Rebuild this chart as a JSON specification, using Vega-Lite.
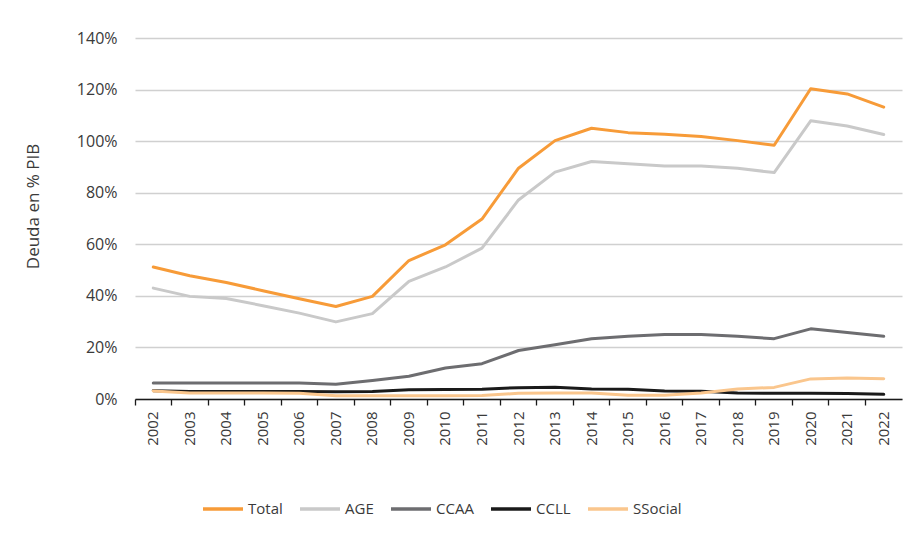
{
  "$schema": "https://vega.github.io/schema/vega-lite/v6.json",
  "width": 767,
  "height": 361,
  "autosize": {"type": "none"},
  "padding": {"left": 135, "top": 38, "right": 15, "bottom": 140},
  "background": "white",
  "config": {
    "font": "Open Sans",
    "view": {"stroke": null},
    "axis": {"labelFont": "Open Sans", "titleFont": "Open Sans", "labelColor": "#3a3a3a", "titleColor": "#3a3a3a", "titleFontWeight": "normal"},
    "legend": {"labelFont": "Open Sans"}
  },
  "data": {
    "values": [
      {"year": "2002", "series": "Total", "value": 51.2},
      {"year": "2003", "series": "Total", "value": 47.8},
      {"year": "2004", "series": "Total", "value": 45.2},
      {"year": "2005", "series": "Total", "value": 42.0},
      {"year": "2006", "series": "Total", "value": 38.9},
      {"year": "2007", "series": "Total", "value": 35.9},
      {"year": "2008", "series": "Total", "value": 39.8},
      {"year": "2009", "series": "Total", "value": 53.7},
      {"year": "2010", "series": "Total", "value": 59.8},
      {"year": "2011", "series": "Total", "value": 69.8},
      {"year": "2012", "series": "Total", "value": 89.5},
      {"year": "2013", "series": "Total", "value": 100.2},
      {"year": "2014", "series": "Total", "value": 105.0},
      {"year": "2015", "series": "Total", "value": 103.3},
      {"year": "2016", "series": "Total", "value": 102.7},
      {"year": "2017", "series": "Total", "value": 101.8},
      {"year": "2018", "series": "Total", "value": 100.2},
      {"year": "2019", "series": "Total", "value": 98.4},
      {"year": "2020", "series": "Total", "value": 120.3},
      {"year": "2021", "series": "Total", "value": 118.3},
      {"year": "2022", "series": "Total", "value": 113.2},
      {"year": "2002", "series": "AGE", "value": 43.0},
      {"year": "2003", "series": "AGE", "value": 39.8},
      {"year": "2004", "series": "AGE", "value": 39.0},
      {"year": "2005", "series": "AGE", "value": 36.2},
      {"year": "2006", "series": "AGE", "value": 33.3},
      {"year": "2007", "series": "AGE", "value": 29.9},
      {"year": "2008", "series": "AGE", "value": 33.1},
      {"year": "2009", "series": "AGE", "value": 45.6},
      {"year": "2010", "series": "AGE", "value": 51.2},
      {"year": "2011", "series": "AGE", "value": 58.5},
      {"year": "2012", "series": "AGE", "value": 77.2},
      {"year": "2013", "series": "AGE", "value": 88.0},
      {"year": "2014", "series": "AGE", "value": 92.1},
      {"year": "2015", "series": "AGE", "value": 91.2},
      {"year": "2016", "series": "AGE", "value": 90.4},
      {"year": "2017", "series": "AGE", "value": 90.4},
      {"year": "2018", "series": "AGE", "value": 89.5},
      {"year": "2019", "series": "AGE", "value": 87.8},
      {"year": "2020", "series": "AGE", "value": 107.9},
      {"year": "2021", "series": "AGE", "value": 105.9},
      {"year": "2022", "series": "AGE", "value": 102.6},
      {"year": "2002", "series": "CCAA", "value": 6.2},
      {"year": "2003", "series": "CCAA", "value": 6.2},
      {"year": "2004", "series": "CCAA", "value": 6.2},
      {"year": "2005", "series": "CCAA", "value": 6.2},
      {"year": "2006", "series": "CCAA", "value": 6.2},
      {"year": "2007", "series": "CCAA", "value": 5.7},
      {"year": "2008", "series": "CCAA", "value": 7.2},
      {"year": "2009", "series": "CCAA", "value": 8.8},
      {"year": "2010", "series": "CCAA", "value": 12.0},
      {"year": "2011", "series": "CCAA", "value": 13.7},
      {"year": "2012", "series": "CCAA", "value": 18.8},
      {"year": "2013", "series": "CCAA", "value": 21.0},
      {"year": "2014", "series": "CCAA", "value": 23.4},
      {"year": "2015", "series": "CCAA", "value": 24.3},
      {"year": "2016", "series": "CCAA", "value": 25.0},
      {"year": "2017", "series": "CCAA", "value": 25.0},
      {"year": "2018", "series": "CCAA", "value": 24.3},
      {"year": "2019", "series": "CCAA", "value": 23.4},
      {"year": "2020", "series": "CCAA", "value": 27.2},
      {"year": "2021", "series": "CCAA", "value": 25.8},
      {"year": "2022", "series": "CCAA", "value": 24.3},
      {"year": "2002", "series": "CCLL", "value": 3.2},
      {"year": "2003", "series": "CCLL", "value": 2.9},
      {"year": "2004", "series": "CCLL", "value": 2.9},
      {"year": "2005", "series": "CCLL", "value": 2.9},
      {"year": "2006", "series": "CCLL", "value": 2.9},
      {"year": "2007", "series": "CCLL", "value": 2.8},
      {"year": "2008", "series": "CCLL", "value": 2.9},
      {"year": "2009", "series": "CCLL", "value": 3.6},
      {"year": "2010", "series": "CCLL", "value": 3.7},
      {"year": "2011", "series": "CCLL", "value": 3.8},
      {"year": "2012", "series": "CCLL", "value": 4.4},
      {"year": "2013", "series": "CCLL", "value": 4.6},
      {"year": "2014", "series": "CCLL", "value": 3.9},
      {"year": "2015", "series": "CCLL", "value": 3.8},
      {"year": "2016", "series": "CCLL", "value": 3.1},
      {"year": "2017", "series": "CCLL", "value": 3.0},
      {"year": "2018", "series": "CCLL", "value": 2.3},
      {"year": "2019", "series": "CCLL", "value": 2.2},
      {"year": "2020", "series": "CCLL", "value": 2.2},
      {"year": "2021", "series": "CCLL", "value": 2.1},
      {"year": "2022", "series": "CCLL", "value": 1.8},
      {"year": "2002", "series": "SSocial", "value": 3.1},
      {"year": "2003", "series": "SSocial", "value": 2.3},
      {"year": "2004", "series": "SSocial", "value": 2.3},
      {"year": "2005", "series": "SSocial", "value": 2.3},
      {"year": "2006", "series": "SSocial", "value": 2.2},
      {"year": "2007", "series": "SSocial", "value": 1.3},
      {"year": "2008", "series": "SSocial", "value": 1.3},
      {"year": "2009", "series": "SSocial", "value": 1.3},
      {"year": "2010", "series": "SSocial", "value": 1.3},
      {"year": "2011", "series": "SSocial", "value": 1.4},
      {"year": "2012", "series": "SSocial", "value": 2.2},
      {"year": "2013", "series": "SSocial", "value": 2.3},
      {"year": "2014", "series": "SSocial", "value": 2.3},
      {"year": "2015", "series": "SSocial", "value": 1.5},
      {"year": "2016", "series": "SSocial", "value": 1.5},
      {"year": "2017", "series": "SSocial", "value": 2.3},
      {"year": "2018", "series": "SSocial", "value": 3.9},
      {"year": "2019", "series": "SSocial", "value": 4.5},
      {"year": "2020", "series": "SSocial", "value": 7.8},
      {"year": "2021", "series": "SSocial", "value": 8.1},
      {"year": "2022", "series": "SSocial", "value": 7.9}
    ]
  },
  "mark": {"type": "line", "strokeWidth": 3, "strokeCap": "round", "strokeJoin": "round"},
  "encoding": {
    "x": {
      "field": "year",
      "type": "ordinal",
      "bandPosition": 0.5,
      "scale": {"type": "band", "paddingInner": 0, "paddingOuter": 0},
      "axis": {
        "title": null,
        "labelAngle": -90,
        "labelAlign": "right",
        "labelBaseline": "middle",
        "labelFontSize": 15,
        "labelPadding": 6,
        "bandPosition": 0,
        "ticks": true,
        "tickSize": 6,
        "tickColor": "#1a1a1a",
        "tickWidth": 1.3,
        "domainColor": "#1a1a1a",
        "domainWidth": 1.5,
        "grid": false
      }
    },
    "y": {
      "field": "value",
      "type": "quantitative",
      "scale": {"domain": [0, 140], "nice": false},
      "axis": {
        "title": "Deuda en % PIB",
        "titleFontSize": 17,
        "titlePadding": 34,
        "titleY": 168,
        "values": [0, 20, 40, 60, 80, 100, 120, 140],
        "labelExpr": "datum.value + '%'",
        "labelFontSize": 16,
        "labelPadding": 18,
        "ticks": false,
        "domain": false,
        "grid": true,
        "gridColor": "#d0d0d0",
        "gridWidth": 1.3
      }
    },
    "color": {
      "field": "series",
      "type": "nominal",
      "scale": {
        "domain": ["Total", "AGE", "CCAA", "CCLL", "SSocial"],
        "range": ["#F79B38", "#C9C9C9", "#6D6D70", "#1A1A1A", "#FAC68D"]
      },
      "legend": {
        "title": null,
        "orient": "none",
        "legendX": 66,
        "legendY": 449,
        "direction": "horizontal",
        "symbolType": "stroke",
        "symbolSize": 1600,
        "symbolStrokeWidth": 3.5,
        "labelFontSize": 15,
        "labelColor": "#3a3a3a",
        "labelOffset": 3,
        "columnPadding": 10
      }
    }
  }
}
